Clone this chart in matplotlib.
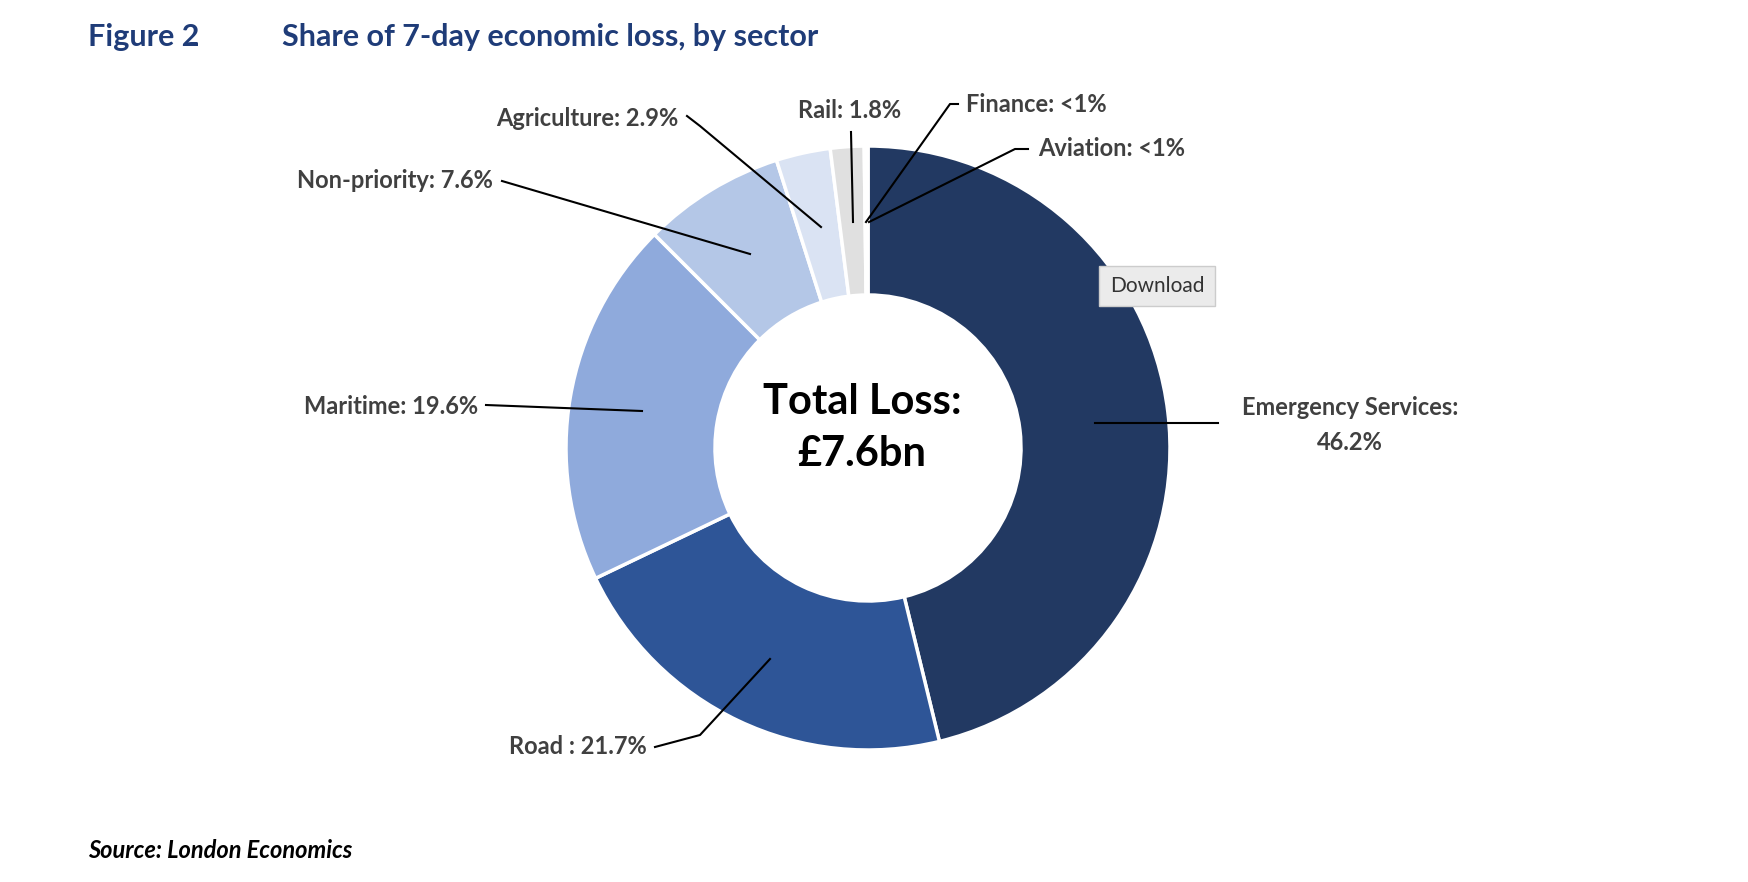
import matplotlib
matplotlib.use("Agg")
import matplotlib.pyplot as plt

# Données (part de la perte économique sur 7 jours, %)
sectors = ["Emergency Services", "Road", "Maritime", "Non-priority",
           "Agriculture", "Rail", "Finance", "Aviation"]
shares = [46.2, 21.7, 19.6, 7.6, 2.9, 1.8, 0.1, 0.1]
label_texts = ["Emergency Services:\n46.2%", "Road : 21.7%", "Maritime: 19.6%",
               "Non-priority: 7.6%", "Agriculture: 2.9%", "Rail: 1.8%",
               "Finance: <1%", "Aviation: <1%"]
colors = ["#223962", "#2E5597", "#8FAADC", "#B4C7E7",
          "#DAE3F3", "#E0E0E0", "#D0D0D0", "#C8C8C8"]

plt.rcParams['font.family'] = ['Lato', 'DejaVu Sans']

fig = plt.figure(figsize=(17.48, 8.82), dpi=100)
ax = fig.add_axes([0, 0, 1, 1])
ax.set_xlim(0, 1748)
ax.set_ylim(882, 0)
ax.set_aspect('equal')
ax.axis('off')

cx, cy, r_out = 868, 448, 302
ax.pie(shares, colors=colors, startangle=90, counterclock=False,
       center=(cx, -cy), radius=r_out,
       wedgeprops=dict(width=r_out - 153, edgecolor='white', linewidth=2.5),
       frame=True)
# pie draws in y-up coordinates; flip by using transform below
for p in ax.patches:
    pass
ax.set_ylim(-882, 0)
ax.set_xlim(0, 1748)
ax.axis('off')

# label positions: (text x, text y, ha, line points)
layout = [
    (1350, 425, 'center', [(1095, 423), (1218, 423)]),
    (647, 747, 'right', [(770, 659), (700, 735), (655, 747)]),
    (478, 407, 'right', [(642, 411), (486, 405)]),
    (493, 181, 'right', [(750, 254), (502, 181)]),
    (678, 118, 'right', [(821, 227), (700, 126), (687, 116)]),
    (850, 110, 'center', [(853, 222), (851, 132)]),
    (966, 105, 'left', [(866, 222), (950, 104), (958, 104)]),
    (1038, 149, 'left', [(869, 222), (1015, 149), (1028, 149)]),
]
for txt, (tx, ty, ha, pts) in zip(label_texts, layout):
    xs = [p[0] for p in pts]
    ys = [-p[1] for p in pts]
    ax.plot(xs, ys, color='black', lw=1.5)
    ax.text(tx, -ty, txt, ha=ha, va='center', fontsize=17, fontweight='bold',
            color='#404040', linespacing=1.6)

ax.text(cx - 6, -(cy - 20), "Total Loss:\n£7.6bn", ha='center', va='center',
        fontsize=30, fontweight='bold', color='black', linespacing=1.45)

ax.text(88, -37, "Figure 2", fontsize=22, fontweight='bold', color='#1F3C78', va='center')
ax.text(282, -37, "Share of 7-day economic loss, by sector", fontsize=22,
        fontweight='bold', color='#1F3C78', va='center')
ax.text(88, -851, "Source: London Economics", fontsize=17, fontweight='bold',
        style='italic', color='black', va='center')
ax.text(1157, -286, "Download", fontsize=15, color='#333333', ha='center', va='center',
        bbox=dict(boxstyle='square,pad=0.5', fc='#EBEBEB', ec='#CCCCCC'))

fig.savefig("out.png", dpi=100)
